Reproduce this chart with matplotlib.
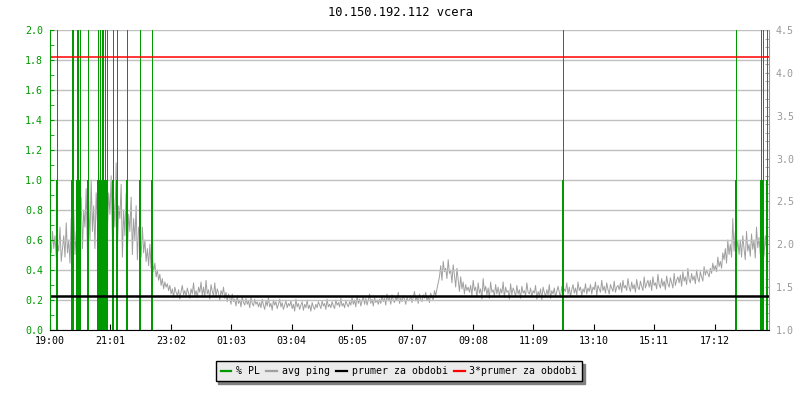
import numpy as np
import matplotlib
matplotlib.use('Agg')
import matplotlib.pyplot as plt
from matplotlib.lines import Line2D
from matplotlib.ticker import MultipleLocator, FormatStrFormatter
from matplotlib.transforms import blended_transform_factory

plt.rcParams['font.family'] = 'DejaVu Sans Mono'

title = '10.150.192.112 vcera'

# x osa: minuty od 19:00
tick_min = [0, 121, 242, 363, 484, 605, 726, 847, 968, 1089, 1210, 1331]
tick_lab = ['19:00', '21:01', '23:02', '01:03', '03:04', '05:05',
            '07:07', '09:08', '11:09', '13:10', '15:11', '17:12']

# packet loss [%] - udalosti
pl_min = [15, 45, 47, 54, 57, 61, 76, 96, 101, 104, 107, 110, 115, 127,
          134, 154, 181, 205, 1027, 1373, 1423, 1427, 1435]
pl_val = [1.0, 1.0, 1.0, 1.0, 1.0, 1.0, 1.0, 1.0, 1.0, 1.0, 1.0, 1.0,
          1.0, 1.0, 1.0, 1.0, 1.0, 1.0, 1.0, 1.0, 1.0, 1.0, 1.0]
pl_peak = [5.0, 5.0, 5.0, 5.0, 5.0, 5.0, 5.0, 5.0, 5.0, 5.0, 5.0, 5.0,
           5.0, 5.0, 5.0, 5.0, 5.0, 5.0, 5.0, 5.0, 5.0, 5.0, 5.0]

# avg ping [ms], vzorek po 2.5 minutach (24 hodnot na hodinu)
ping_step = 2.5
ping = [
    2.05, 1.90, 2.15, 1.95, 2.10, 1.85, 2.00, 1.92, 2.20, 1.80, 1.95, 2.10,
    1.85, 2.25, 1.90, 2.05, 1.78, 2.30, 1.95, 2.40, 1.88, 2.15, 2.00, 2.35,
    2.10, 2.55, 1.95, 2.40, 2.20, 2.65, 1.90, 2.50, 2.05, 2.75, 2.15, 2.45,
    1.95, 2.60, 2.25, 2.85, 2.00, 2.50, 2.30, 2.70, 1.92, 2.45, 2.15, 2.60,
    2.35, 2.80, 2.05, 2.55, 2.20, 2.95, 1.95, 2.45, 2.30, 2.70, 1.85, 2.40,
    2.10, 2.60, 1.90, 2.35, 2.15, 2.55, 1.88, 2.30, 2.05, 2.45, 1.82, 2.20,
    2.10, 1.85, 2.20, 1.90, 2.05, 1.80, 1.95, 1.75, 2.00, 1.72, 1.85, 1.68,
    1.78, 1.62, 1.70, 1.58, 1.65, 1.52, 1.60, 1.48, 1.56, 1.50, 1.54, 1.46,
    1.52, 1.42, 1.48, 1.38, 1.50, 1.44, 1.40, 1.47, 1.36, 1.45, 1.52, 1.41,
    1.46, 1.39, 1.49, 1.43, 1.37, 1.48, 1.42, 1.55, 1.40, 1.46, 1.38, 1.50,
    1.44, 1.56, 1.40, 1.50, 1.38, 1.58, 1.42, 1.47, 1.36, 1.53, 1.45, 1.40,
    1.55, 1.39, 1.48, 1.43, 1.35, 1.46, 1.41, 1.50, 1.37, 1.44, 1.33, 1.42,
    1.38, 1.30, 1.42, 1.33, 1.36, 1.28, 1.40, 1.31, 1.35, 1.27, 1.39, 1.32,
    1.29, 1.37, 1.30, 1.34, 1.26, 1.38, 1.31, 1.28, 1.36, 1.30, 1.33, 1.27,
    1.32, 1.26, 1.36, 1.29, 1.24, 1.34, 1.28, 1.38, 1.27, 1.31, 1.23, 1.35,
    1.29, 1.33, 1.25, 1.30, 1.36, 1.27, 1.32, 1.24, 1.29, 1.34, 1.26, 1.31,
    1.28, 1.34, 1.25, 1.30, 1.22, 1.36, 1.27, 1.31, 1.24, 1.29, 1.33, 1.23,
    1.30, 1.26, 1.35, 1.25, 1.29, 1.22, 1.32, 1.27, 1.24, 1.30, 1.26, 1.33,
    1.29, 1.25, 1.34, 1.28, 1.31, 1.24, 1.36, 1.27, 1.30, 1.26, 1.33, 1.28,
    1.25, 1.35, 1.29, 1.32, 1.27, 1.37, 1.28, 1.31, 1.26, 1.34, 1.30, 1.27,
    1.33, 1.29, 1.38, 1.30, 1.35, 1.27, 1.40, 1.31, 1.36, 1.28, 1.34, 1.39,
    1.30, 1.37, 1.29, 1.35, 1.42, 1.31, 1.36, 1.28, 1.38, 1.32, 1.35, 1.30,
    1.36, 1.31, 1.40, 1.33, 1.37, 1.29, 1.42, 1.34, 1.38, 1.30, 1.41, 1.35,
    1.32, 1.39, 1.34, 1.44, 1.31, 1.37, 1.33, 1.40, 1.36, 1.30, 1.38, 1.34,
    1.35, 1.40, 1.32, 1.38, 1.45, 1.34, 1.39, 1.31, 1.42, 1.36, 1.33, 1.41,
    1.37, 1.44, 1.34, 1.39, 1.32, 1.43, 1.38, 1.35, 1.46, 1.40, 1.48, 1.55,
    1.62, 1.75, 1.58, 1.80, 1.68, 1.72, 1.60, 1.82, 1.66, 1.70, 1.55, 1.76,
    1.64, 1.50, 1.72, 1.58, 1.45, 1.62, 1.48, 1.56, 1.42, 1.53, 1.46, 1.50,
    1.44, 1.52, 1.40, 1.58, 1.46, 1.50, 1.38, 1.55, 1.43, 1.48, 1.36, 1.60,
    1.45, 1.51, 1.41, 1.49, 1.37, 1.56, 1.44, 1.47, 1.39, 1.53, 1.42, 1.50,
    1.40, 1.48, 1.43, 1.56, 1.38, 1.50, 1.44, 1.46, 1.36, 1.54, 1.41, 1.49,
    1.45, 1.39, 1.52, 1.42, 1.47, 1.37, 1.51, 1.43, 1.46, 1.40, 1.55, 1.44,
    1.42, 1.49, 1.38, 1.46, 1.43, 1.52, 1.36, 1.45, 1.40, 1.48, 1.35, 1.50,
    1.44, 1.39, 1.47, 1.41, 1.53, 1.37, 1.46, 1.42, 1.49, 1.38, 1.45, 1.51,
    1.44, 1.38, 1.51, 1.40, 1.48, 1.45, 1.55, 1.42, 1.50, 1.39, 1.47, 1.53,
    1.43, 1.49, 1.41, 1.56, 1.46, 1.50, 1.40, 1.48, 1.44, 1.54, 1.42, 1.49,
    1.45, 1.53, 1.42, 1.50, 1.47, 1.56, 1.40, 1.52, 1.48, 1.44, 1.58, 1.46,
    1.51, 1.43, 1.55, 1.47, 1.42, 1.53, 1.49, 1.45, 1.57, 1.44, 1.50, 1.52,
    1.47, 1.55, 1.44, 1.58, 1.49, 1.52, 1.46, 1.60, 1.50, 1.45, 1.56, 1.48,
    1.53, 1.44, 1.59, 1.50, 1.47, 1.57, 1.51, 1.46, 1.62, 1.49, 1.54, 1.58,
    1.50, 1.58, 1.46, 1.62, 1.52, 1.55, 1.48, 1.65, 1.53, 1.49, 1.60, 1.51,
    1.57, 1.47, 1.63, 1.54, 1.50, 1.61, 1.55, 1.49, 1.66, 1.52, 1.58, 1.62,
    1.55, 1.64, 1.51, 1.68, 1.57, 1.62, 1.53, 1.72, 1.59, 1.55, 1.66, 1.58,
    1.63, 1.54, 1.70, 1.60, 1.56, 1.68, 1.62, 1.57, 1.74, 1.64, 1.70, 1.66,
    1.62, 1.72, 1.66, 1.78, 1.70, 1.75, 1.68, 1.85, 1.74, 1.80, 1.72, 1.90,
    1.82, 1.95, 1.78, 2.05, 1.88, 2.00, 1.85, 2.30, 1.92, 2.15, 1.90, 2.05,
    1.88, 2.05, 1.85, 2.10, 1.95, 1.82, 2.15, 1.92, 2.00, 1.86, 2.12, 1.94,
    2.05, 1.84, 2.20, 1.96, 2.08, 1.88, 2.25, 1.98, 1.86, 2.10, 1.94, 2.02,
]
ping_t = np.arange(len(ping)) * ping_step
prumer = 1.395

c_green = '#009900'
c_gray = '#999999'

fig = plt.figure(figsize=(8, 4), dpi=100)
ax = fig.add_axes([50/800, 70/400, 719/800, 300/400])
ax2 = ax.twinx()
ax.set_zorder(ax2.get_zorder() + 1)
ax.patch.set_visible(False)

ax2.plot(ping_t, ping, color='#a0a0a0', lw=0.7)

ax.vlines(pl_min, 0, pl_peak, color=c_green, lw=0.72, antialiased=False)
ax.vlines(pl_min, 0, pl_val, color=c_green, lw=1.44)

tr = blended_transform_factory(ax.transAxes, ax2.transData)
ax.plot([0, 1], [prumer, prumer], transform=tr, color='black', lw=1.8)
ax.plot([0, 1], [3*prumer, 3*prumer], transform=tr, color='red', lw=1.1)

ax.set_xlim(0, 1440)
ax.set_ylim(0, 2.0)
ax2.set_ylim(1.0, 4.5)

ax.yaxis.set_major_locator(MultipleLocator(0.2))
ax.yaxis.set_minor_locator(MultipleLocator(0.1))
ax.yaxis.set_major_formatter(FormatStrFormatter('%.1f'))
ax2.yaxis.set_major_locator(MultipleLocator(0.5))
ax2.yaxis.set_minor_locator(MultipleLocator(0.1))
ax2.yaxis.set_major_formatter(FormatStrFormatter('%.1f'))
ax.yaxis.grid(True, color='#c0c0c0', lw=1)
ax.set_axisbelow(True)

ax.set_xticks(tick_min, tick_lab)
ax.tick_params(axis='x', direction='in', length=4, pad=4, labelsize=7.2, colors='black')
ax.tick_params(axis='y', which='both', direction='in', length=3, pad=5,
               labelsize=7.2, colors=c_green)
ax2.tick_params(axis='y', which='both', direction='in', length=3, pad=5,
                labelsize=7.2, colors=c_gray)

for s in ['top', 'right']:
    ax.spines[s].set_visible(False)
for s in ['top', 'left', 'bottom']:
    ax2.spines[s].set_visible(False)
ax.spines['left'].set_color(c_green)
ax2.spines['right'].set_color(c_gray)

fig.text(0.5, 1 - 13/400, title, ha='center', va='center', fontsize=8.7)

handles = [Line2D([], [], color=c_green, lw=1.6),
           Line2D([], [], color='#a0a0a0', lw=1.6),
           Line2D([], [], color='black', lw=1.6),
           Line2D([], [], color='red', lw=1.6)]
labels = ['% PL', 'avg ping', 'prumer za obdobi', '3*prumer za obdobi']
fig.legend(handles, labels, loc='center', bbox_to_anchor=(399/800, 1 - 371/400),
           ncol=4, fontsize=7.1, frameon=True, fancybox=False, edgecolor='black',
           facecolor='#ebebeb', framealpha=1,
           shadow={'ox': 2, 'oy': -2, 'color': '#808080', 'alpha': 1},
           handlelength=1.1, handletextpad=0.5, columnspacing=0.6, borderpad=0.5)

fig.savefig('out.png', dpi=100)
